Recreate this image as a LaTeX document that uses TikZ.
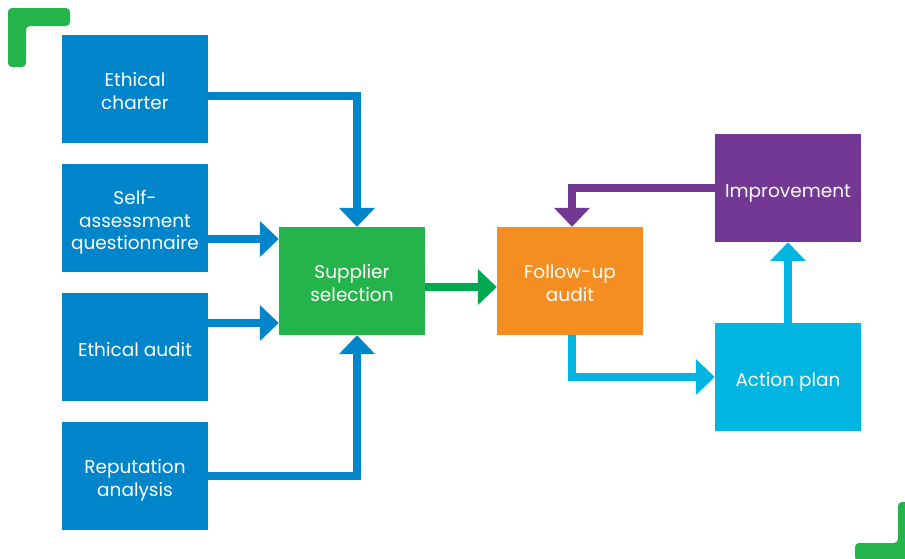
\documentclass[tikz,border=0pt]{standalone}
\usepackage{fontspec}
\setmainfont{Poppins}
\usetikzlibrary{arrows.meta}
\definecolor{cblue}{RGB}{0,133,202}
\definecolor{cgreen}{RGB}{37,179,75}
\definecolor{cdgreen}{RGB}{0,169,79}
\definecolor{corange}{RGB}{245,142,32}
\definecolor{cpurple}{RGB}{114,56,148}
\definecolor{ccyan}{RGB}{0,181,226}
\newcommand\boxtext[1]{\raisebox{-4.5pt}[\height][\depth]{\begin{tabular}{@{}c@{}}#1\end{tabular}}}
\begin{document}
\begin{tikzpicture}[x=1pt,y=-1pt,
    box/.style={fill=#1,text=white,minimum width=146pt,minimum height=108pt,inner sep=0pt,font=\fontsize{18.5}{22.5}\selectfont},
    link/.style={draw=#1,line width=7.5pt,-{Triangle[width=35pt,length=19pt]}}]
                \clip (0,0) rectangle (905,558);
                \fill[cgreen,rounded corners=4pt] (8,67) -- (8,8) -- (70,8) -- (70,26) -- (26,26) -- (26,67) -- cycle;
                \fill[cgreen,rounded corners=4pt] (855,561) -- (855,543) -- (898,543) -- (898,502) -- (916,502) -- (916,561) -- cycle;
                \node[box=cblue] (charter) at (135,89) {\boxtext{Ethical\\charter}};
                \node[box=cblue] (selfq) at (135,218) {\boxtext{Self-\\assessment\\questionnaire}};
                \node[box=cblue] (ethaudit) at (135,347) {\boxtext{Ethical audit}};
                \node[box=cblue] (reput) at (135,476) {\boxtext{Reputation\\analysis}};
                \node[box=cgreen] (select) at (352,281) {\boxtext{Supplier\\selection}};
                \node[box=corange] (followup) at (570,281) {\boxtext{Follow-up\\audit}};
                \node[box=cpurple] (improve) at (788,188) {\boxtext{Improvement}};
                \node[box=ccyan] (action) at (788,377) {\boxtext{Action plan}};
                \coordinate (q) at ([yshift=-21pt]selfq.east);
                \coordinate (a) at ([yshift=24pt]ethaudit.east);
                \coordinate (s) at ([yshift=-6pt]select.east);
                \draw[link=cblue] ([yshift=-7pt]charter.east) -| ([xshift=5pt]select.north);
                \draw[link=cblue] (q) -- (q -| select.west);
                \draw[link=cblue] (a) -- (a -| select.west);
                \draw[link=cblue] (reput.east) -| ([xshift=5pt]select.south);
                \draw[link=cdgreen] (s) -- (s -| followup.west);
                \draw[link=ccyan] ([xshift=2pt]followup.south) |- (action.west);
                \draw[link=ccyan] (action.north) -- (improve.south);
                \draw[link=cpurple] (improve.west) -| ([xshift=2pt]followup.north);
            \end{tikzpicture}
\end{document}
